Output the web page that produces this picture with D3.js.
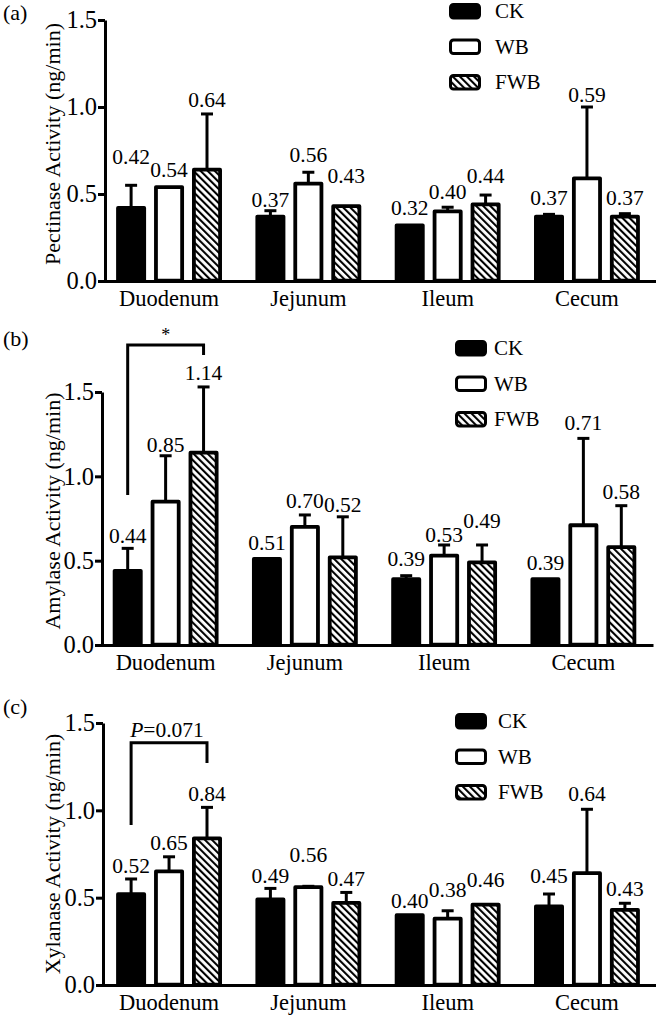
<!DOCTYPE html>
<html><head><meta charset="utf-8">
<script src="https://cdn.jsdelivr.net/npm/d3@7"></script>
<style>body{margin:0;background:#fff}svg{display:block}</style>
</head><body>
<svg id="chart" width="656" height="1017"></svg>
<script>
// ---------- data ----------
const categories = ["Duodenum", "Jejunum", "Ileum", "Cecum"];
const treatments = ["CK", "WB", "FWB"];
const yTicks = [0, 0.5, 1.0, 1.5];
const yTickLabels = ["0.0", "0.5", "1.0", "1.5"];

// means per category, in order [CK, WB, FWB]
const pectinaseMean = [[0.42, 0.54, 0.64], [0.37, 0.56, 0.43], [0.32, 0.40, 0.44], [0.37, 0.59, 0.37]];
const pectinaseSD   = [[0.13, 0, 0.32], [0.034, 0.065, 0], [0, 0.024, 0.054], [0.013, 0.41, 0.017]];
const amylaseMean   = [[0.44, 0.85, 1.14], [0.51, 0.70, 0.52], [0.39, 0.53, 0.49], [0.39, 0.71, 0.58]];
const amylaseSD     = [[0.133, 0.272, 0.39], [0, 0.071, 0.24], [0.021, 0.063, 0.103], [0, 0.515, 0.246]];
const xylanaseMean  = [[0.52, 0.65, 0.84], [0.49, 0.56, 0.47], [0.40, 0.38, 0.46], [0.45, 0.64, 0.43]];
const xylanaseSD    = [[0.087, 0.084, 0.177], [0.063, 0.005, 0.06], [0, 0.045, 0], [0.071, 0.366, 0.038]];
const valueLabels = {
  a: [["0.42", "0.54", "0.64"], ["0.37", "0.56", "0.43"], ["0.32", "0.40", "0.44"], ["0.37", "0.59", "0.37"]],
  b: [["0.44", "0.85", "1.14"], ["0.51", "0.70", "0.52"], ["0.39", "0.53", "0.49"], ["0.39", "0.71", "0.58"]],
  c: [["0.52", "0.65", "0.84"], ["0.49", "0.56", "0.47"], ["0.40", "0.38", "0.46"], ["0.45", "0.64", "0.43"]]
};
// significance brackets: category index, from/to treatment, levels in data units
const amylaseSig  = { text: "*", cat: 0, from: 0, to: 2, level: 1.778, leftEnd: 0.889, rightEnd: 1.719 };
const xylanaseSig = { text: "P=0.071", cat: 0, from: 0, to: 2, level: 1.387, leftEnd: 0.916, rightEnd: 1.271 };

// ---------- layout (positions only) ----------
const FONT = "'Liberation Serif','Times New Roman',Times,serif";
const panels = [
  { key: "a", letter: "(a)", title: "Pectinase Activity (ng/min)", mean: pectinaseMean, sd: pectinaseSD,
    y0: 281, y1: 20, axisX: 105, xr: [99.4, 656.6], letterY: 20, titleY: 144,
    legend: { boxX: 449, textX: 495, top: 3 }, sig: null,
    gaps: [[21, 10, 7], [4, 10, 23], [10, 8, 12], [9, 5, 9]] },
  { key: "b", letter: "(b)", title: "Amylase Activity (ng/min)", mean: amylaseMean, sd: amylaseSD,
    y0: 645, y1: 392, axisX: 102, xr: [96, 653], letterY: 346, titleY: 511,
    legend: { boxX: 455, textX: 494, top: 340 }, sig: amylaseSig,
    gaps: [[5, 4, 7], [9, 7, 5], [10, 3, 17], [9, 8, 7]] },
  { key: "c", letter: "(c)", title: "Xylanase Activity (ng/min)", mean: xylanaseMean, sd: xylanaseSD,
    y0: 985, y1: 723, axisX: 103, xr: [99.4, 656.6], letterY: 714, titleY: 854,
    legend: { boxX: 455, textX: 498, top: 713 }, sig: xylanaseSig,
    gaps: [[6, 7, 6], [5, 24, 6], [7, 14, 18], [11, 8, 7]] }
];

const svg = d3.select("#chart");
const defs = svg.append("defs");
const pat = defs.append("pattern").attr("id", "hatch").attr("patternUnits", "userSpaceOnUse")
  .attr("width", 5).attr("height", 5).attr("patternTransform", "rotate(-45)");
pat.append("rect").attr("width", 5).attr("height", 5).attr("fill", "#fff");
pat.append("line").attr("x1", 1).attr("x2", 1).attr("y1", 0).attr("y2", 5)
  .attr("stroke", "#000").attr("stroke-width", 2.2);

const fills = { CK: "#000", WB: "#fff", FWB: "url(#hatch)" };
const SW = 3.8;

panels.forEach(p => {
  const g = svg.append("g");
  const y = d3.scaleLinear().domain([0, 1.5]).range([p.y0, p.y1]);
  const x0 = d3.scaleBand().domain(categories).range(p.xr).paddingInner(0.24).paddingOuter(0.12);
  const x1 = d3.scaleBand().domain(treatments).range([0, x0.bandwidth()]).paddingInner(0.21);

  // x axis
  const xa = g.append("g").attr("transform", `translate(0,${p.y0})`)
    .call(d3.axisBottom(x0).tickSize(0).tickSizeOuter(0).tickPadding(9));
  xa.select(".domain").attr("stroke", "#000").attr("stroke-width", 3);
  xa.selectAll("text").attr("font-family", FONT).attr("font-size", 22.5).attr("fill", "#000");

  // y axis
  const ya = g.append("g").attr("transform", `translate(${p.axisX},0)`)
    .call(d3.axisLeft(y).tickValues(yTicks).tickFormat((d, i) => yTickLabels[i]).tickSize(7).tickSizeOuter(0).tickPadding(1));
  ya.select(".domain").attr("stroke", "#000").attr("stroke-width", 3);
  ya.selectAll(".tick line").attr("stroke", "#000").attr("stroke-width", 3);
  ya.selectAll("text").attr("font-family", FONT).attr("font-size", 24.5).attr("fill", "#000");

  // y title
  g.append("text").attr("transform", `translate(60,${p.titleY}) rotate(-90)`)
    .attr("text-anchor", "middle").attr("font-family", FONT).attr("font-size", 22).text(p.title);
  // panel letter
  g.append("text").attr("x", 3).attr("y", p.letterY).attr("font-family", FONT).attr("font-size", 22).text(p.letter);

  // bars
  categories.forEach((cat, ci) => {
    treatments.forEach((t, ti) => {
      const m = p.mean[ci][ti], s = p.sd[ci][ti];
      const bx = x0(cat) + x1(t), bw = x1.bandwidth();
      const cx = bx + bw / 2;
      // error bar (upper)
      if (s > 0.004) {
        g.append("line").attr("x1", cx).attr("x2", cx).attr("y1", y(m)).attr("y2", y(m + s))
          .attr("stroke", "#000").attr("stroke-width", 3);
        g.append("line").attr("x1", cx - 6).attr("x2", cx + 6).attr("y1", y(m + s)).attr("y2", y(m + s))
          .attr("stroke", "#000").attr("stroke-width", 3);
      }
      g.append("rect").attr("x", bx + SW / 2).attr("width", bw - SW)
        .attr("y", y(m)).attr("height", y(0) - y(m) - SW / 2 + 1.5)
        .attr("fill", fills[t]).attr("stroke", "#000").attr("stroke-width", SW)
        .attr("stroke-linejoin", "round");
      g.append("text").attr("x", cx).attr("y", y(m + s) - p.gaps[ci][ti])
        .attr("text-anchor", "middle").attr("font-family", FONT).attr("font-size", 21.5)
        .text(valueLabels[p.key][ci][ti]);
    });
  });

  // significance bracket
  if (p.sig) {
    const s = p.sig, cat = categories[s.cat];
    const xl = x0(cat) + x1(treatments[s.from]) + x1.bandwidth() / 2;
    const xr = x0(cat) + x1(treatments[s.to]) + x1.bandwidth() / 2;
    g.append("path").attr("d", `M${xl},${y(s.leftEnd)}V${y(s.level)}H${xr}V${y(s.rightEnd)}`)
      .attr("fill", "none").attr("stroke", "#000").attr("stroke-width", 3);
    if (s.text === "*") {
      g.append("text").attr("x", (xl + xr) / 2).attr("y", y(s.level) - 4)
        .attr("text-anchor", "middle").attr("font-family", FONT).attr("font-size", 18).text("*");
    } else {
      const tx = g.append("text").attr("x", (xl + xr) / 2 - 2).attr("y", y(s.level) - 6)
        .attr("text-anchor", "middle").attr("font-family", FONT).attr("font-size", 21.5);
      tx.append("tspan").attr("font-style", "italic").text("P");
      tx.append("tspan").text(s.text.slice(1));
    }
  }

  // legend
  treatments.forEach((t, i) => {
    const ty = p.legend.top + i * 35.5;
    g.append("rect").attr("x", p.legend.boxX + 1.5).attr("y", ty + 1.5).attr("width", 29).attr("height", 13.5)
      .attr("rx", 3).attr("fill", fills[t]).attr("stroke", "#000").attr("stroke-width", 3);
    g.append("text").attr("x", p.legend.textX).attr("y", ty + 15).attr("font-family", FONT)
      .attr("font-size", 21).text(t);
  });
});
</script>
</body></html>
